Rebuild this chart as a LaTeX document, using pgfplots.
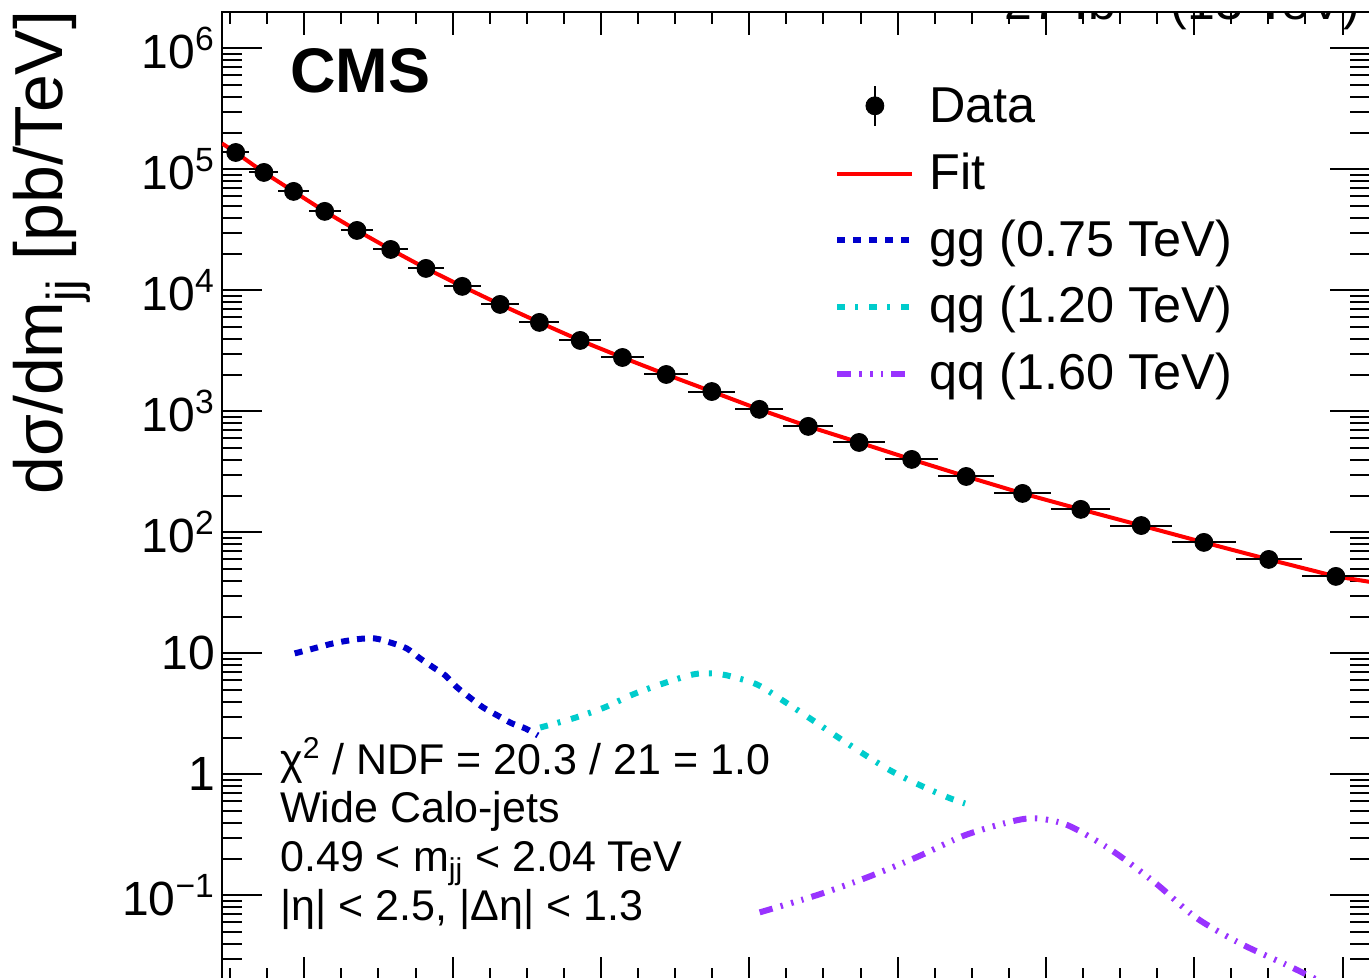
\documentclass[border=0pt]{standalone}
\usepackage{fontspec}
\setmainfont{Liberation Sans}
\usepackage{pgfplots}
\usepackage{pgfplotstable}
\pgfplotsset{compat=1.18}

\definecolor{ggblue}{rgb}{0,0,0.8}
\definecolor{qgcyan}{rgb}{0,0.8,0.8}
\definecolor{qqviolet}{rgb}{0.6,0.2,1}

% dijet spectrum, bin centre / value / half bin width (TeV)
\pgfplotstableread{
x       y       ex
0.5075  1.38e5  0.0185
0.5455  9.44e4  0.0195
0.5855  6.58e4  0.0205
0.6275  4.50e4  0.0215
0.6710  3.13e4  0.0220
0.7165  2.18e4  0.0235
0.7640  1.52e4  0.0240
0.8130  1.08e4  0.0250
0.8640  7.66e3  0.0260
0.9170  5.44e3  0.0270
0.9720  3.86e3  0.0280
1.0290  2.79e3  0.0290
1.0880  2.02e3  0.0300
1.1495  1.46e3  0.0315
1.2135  1.04e3  0.0325
1.2795  752     0.0335
1.3480  554     0.0350
1.4190  401     0.0360
1.4925  290     0.0375
1.5685  210     0.0385
1.6470  155     0.0400
1.7285  114     0.0415
1.8130  82.7    0.0430
1.9005  59.8    0.0445
1.9910  43.3    0.0460
}\dijet

\pgfplotstableread{
x      y
0.489  1.64e5
0.5075 1.38e5
0.5455 9.44e4
0.5855 6.58e4
0.6275 4.50e4
0.6710 3.13e4
0.7165 2.18e4
0.7640 1.52e4
0.8130 1.08e4
0.8640 7.66e3
0.9170 5.44e3
0.9720 3.86e3
1.0290 2.79e3
1.0880 2.02e3
1.1495 1.46e3
1.2135 1.04e3
1.2795 752
1.3480 554
1.4190 401
1.4925 290
1.5685 210
1.6470 155
1.7285 114
1.8130 82.7
1.9005 59.8
1.9910 43.3
2.037  39.0
}\fitcurve

\pgfplotstableread{
x      y
0.587  10.0
0.608  10.8
0.639  12.1
0.671  13.1
0.695  13.3
0.716  12.3
0.738  11.0
0.756  9.10
0.774  7.66
0.790  6.58
0.806  5.24
0.823  4.33
0.841  3.58
0.860  3.08
0.880  2.64
0.898  2.40
0.915  2.10
}\gg

\pgfplotstableread{
x      y
0.918  2.44
0.962  2.90
1.005  3.58
1.043  4.58
1.084  5.65
1.124  6.70
1.147  6.84
1.170  6.58
1.210  5.55
1.245  4.09
1.282  2.90
1.318  2.06
1.353  1.49
1.390  1.08
1.428  0.826
1.468  0.645
1.491  0.575
}\qg

\pgfplotstableread{
x      y
1.214  0.0724
1.290  0.100
1.355  0.138
1.425  0.206
1.490  0.313
1.554  0.409
1.587  0.433
1.630  0.379
1.689  0.235
1.748  0.126
1.802  0.0658
1.862  0.0401
1.926  0.0264
1.959  0.0210
2.003  0.0155
}\qq

\begin{document}
\begin{tikzpicture}
\begin{axis}[
  name=ax, at={(0,0)}, anchor=south west,
  scale only axis, width=574pt, height=484pt,
  ymode=log,
  xmin=0.489, xmax=2.037, ymin=0.02, ymax=2e6,
  axis line style={line width=1.2pt},
  xtick={0.6,0.8,...,2.01}, minor xtick={0.5,0.55,...,2.01},
  xticklabels={},
  ytick={0.1,1,10,100,1000,1e4,1e5,1e6},
  minor ytick={0.03,0.04,0.05,0.06,0.07,0.08,0.09,
    0.2,0.3,0.4,0.5,0.6,0.7,0.8,0.9,2,3,4,5,6,7,8,9,
    20,30,40,50,60,70,80,90,200,300,400,500,600,700,800,900,
    2e3,3e3,4e3,5e3,6e3,7e3,8e3,9e3,2e4,3e4,4e4,5e4,6e4,7e4,8e4,9e4,
    2e5,3e5,4e5,5e5,6e5,7e5,8e5,9e5},
  yticklabels={10\textsuperscript{−1},1,10,10\textsuperscript{2},10\textsuperscript{3},
    10\textsuperscript{4},10\textsuperscript{5},10\textsuperscript{6}},
  yticklabel style={font=\fontsize{24}{24}\selectfont},
  tick align=inside,
  xtick style={black, line width=1pt, /pgfplots/major tick length=11.5pt, /pgfplots/minor tick length=6pt},
  ytick style={black, line width=1pt, /pgfplots/major tick length=20pt, /pgfplots/minor tick length=10pt},
  ylabel={dσ/dm\textsubscript{jj} [pb/TeV]},
  ylabel style={font=\fontsize{34}{34}\selectfont, inner sep=0pt,
    at={(axis description cs:-0.1385,0.501)}, anchor=base west},
  legend style={draw=none, fill=none, at={(axis description cs:0.5331,0.9318)}, anchor=north west,
    inner sep=0pt, row sep=0pt, font=\fontsize{25.2}{30}\selectfont,
    nodes={inner sep=0pt, text height=22pt, text depth=11.4pt},
    /tikz/every odd column/.append style={column sep=7pt}},
  legend cell align=left,
]
\addplot[red, line width=2pt, forget plot] table[x=x, y=y] {\fitcurve};
\addplot[black, only marks, mark=*, mark size=4.5pt, forget plot,
  error bars/.cd, x dir=both, x explicit, error mark=none,
  error bar style={line width=1pt}]
  table[x=x, y=y, x error=ex] {\dijet};
\addplot[ggblue, line width=3pt, dash pattern=on 4pt off 4pt, smooth, forget plot] table {\gg};
\addplot[qgcyan, line width=3pt, dash pattern=on 4pt off 5pt on 1.5pt off 5.5pt, smooth, forget plot] table {\qg};
\addplot[qqviolet, line width=3pt, dash pattern=on 6.7pt off 4.2pt on 1.2pt off 4.3pt on 1.2pt off 4.2pt on 1pt off 4.2pt, smooth, forget plot] table {\qq};

\addlegendimage{legend image code/.code={
  \draw[black, line width=1pt] (18.75pt,-7pt) -- (18.75pt,13pt);
  \fill[black] (18.75pt,3pt) circle (4.5pt);}}
\addlegendentry{Data}
\addlegendimage{legend image code/.code={\draw[red, line width=2pt] (0pt,2.5pt) -- (37.5pt,2.5pt);}}
\addlegendentry{Fit}
\addlegendimage{legend image code/.code={\draw[ggblue, line width=3pt, dash pattern=on 4pt off 4pt] (0pt,2.5pt) -- (37.5pt,2.5pt);}}
\addlegendentry{gg (0.75 TeV)}
\addlegendimage{legend image code/.code={\draw[qgcyan, line width=3pt, dash pattern=on 4pt off 5pt on 1.5pt off 5.5pt] (0pt,2.5pt) -- (37.5pt,2.5pt);}}
\addlegendentry{qg (1.20 TeV)}
\addlegendimage{legend image code/.code={\draw[qqviolet, line width=3pt, dash pattern=on 6.7pt off 4.2pt on 1.2pt off 4.3pt on 1.2pt off 4.2pt on 1pt off 4.2pt] (0pt,2.5pt) -- (37.5pt,2.5pt);}}
\addlegendentry{qq (1.60 TeV)}

\node[inner sep=0pt, anchor=base west, font=\fontsize{31.5}{31.5}\selectfont\bfseries] at (axis description cs:0.0592,0.9163) {CMS};
\node[inner sep=0pt, anchor=base west, font=\fontsize{21.5}{21.5}\selectfont] at (axis description cs:0.0505,0.2128) {χ\textsuperscript{2} / NDF = 20.3 / 21 = 1.0};
\node[inner sep=0pt, anchor=base west, font=\fontsize{21.5}{21.5}\selectfont] at (axis description cs:0.0505,0.1622) {Wide Calo-jets};
\node[inner sep=0pt, anchor=base west, font=\fontsize{21.5}{21.5}\selectfont] at (axis description cs:0.0505,0.1116) {0.49 < m\textsubscript{jj} < 2.04 TeV};
\node[inner sep=0pt, anchor=base west, font=\fontsize{21.5}{21.5}\selectfont] at (axis description cs:0.0505,0.0610) {|η| < 2.5, |Δη| < 1.3};
\node[inner sep=0pt, anchor=base east, font=\fontsize{25}{25}\selectfont] at (axis description cs:0.9913,0.9925) {27 fb\textsuperscript{−1} (13 TeV)};
\end{axis}
\pgfresetboundingbox
\useasboundingbox ([shift={(-111pt,1pt)}]ax.south west) rectangle ([shift={(-0.5pt,6pt)}]ax.north east);
\end{tikzpicture}
\end{document}
